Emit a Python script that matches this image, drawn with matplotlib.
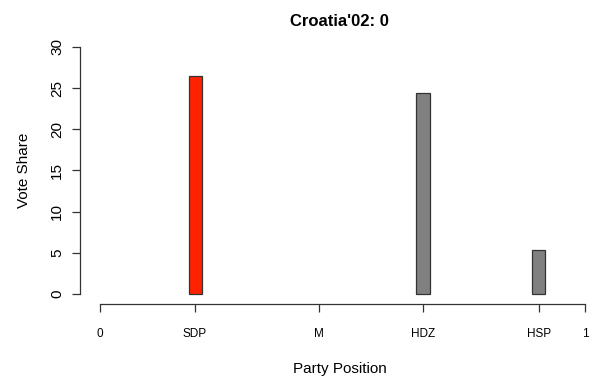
import numpy as np
import matplotlib
matplotlib.use('Agg')
import matplotlib.pyplot as plt

# party positions on the 0-1 scale and their vote shares
parties = ['SDP', 'HDZ', 'HSP']
positions = [0.196, 0.666, 0.905]
shares = [26.5, 24.4, 5.3]
bar_colors = ['#ff2200', '#808080', '#808080']

tick_pos = [0, 0.196, 0.4515, 0.666, 0.905, 1]
tick_labels = ['0', 'SDP', 'M', 'HDZ', 'HSP', '1']
y_ticks = [0, 5, 10, 15, 20, 25, 30]

plt.rcParams['font.family'] = ['Liberation Sans', 'DejaVu Sans']

W, H = 599, 381
fig = plt.figure(figsize=(W / 100, H / 100), dpi=100)
left, right, top, bottom = 80, 599, 37, 304
ax = fig.add_axes([left / W, (H - bottom) / H, (right - left) / W, (bottom - top) / H])

ax.bar(positions, shares, width=0.027, color=bar_colors, edgecolor='#333333', linewidth=0.9)

ax.set_xlim(-20 / 485, 499 / 485)
ax.set_ylim(-1.2, 31.2)

for s in ['top', 'right']:
    ax.spines[s].set_visible(False)
ax.spines['left'].set_bounds(0, 30)
ax.spines['bottom'].set_bounds(0, 1)
for s in ['left', 'bottom']:
    ax.spines[s].set_color('#333333')
    ax.spines[s].set_linewidth(0.9)

ax.set_xticks(tick_pos)
ax.set_xticklabels(tick_labels, fontsize=8.5)
ax.set_yticks(y_ticks)
ax.set_yticklabels([str(v) for v in y_ticks], fontsize=11, rotation=90, va='center')
ax.tick_params(axis='x', direction='out', length=6, width=0.9, color='#333333', pad=11)
ax.tick_params(axis='y', direction='out', length=6, width=0.9, color='#333333', pad=5.5)

ax.set_xlabel('Party Position', fontsize=11, labelpad=16)
ax.set_ylabel('Vote Share', fontsize=11, labelpad=14)
ax.set_title("Croatia'02: 0", fontsize=12, fontweight='bold', pad=8)

fig.savefig('out.png', dpi=100)
